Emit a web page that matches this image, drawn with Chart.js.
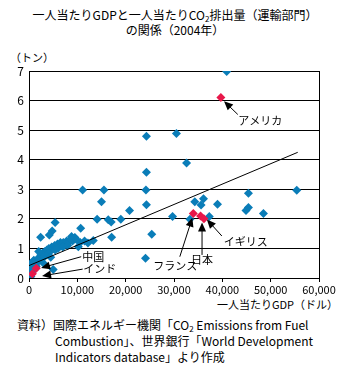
<!DOCTYPE html>
<html>
<head>
<meta charset="utf-8">
<script src="https://cdn.jsdelivr.net/npm/chart.js@4"></script>
<style>
body{margin:0;width:350px;height:372px;position:relative;background:#fff;overflow:hidden;
  font-family:"Noto Sans CJK JP",sans-serif;color:#000}
.t{position:absolute;white-space:nowrap;font-size:12px;line-height:16px}
.sub{font-size:8px;vertical-align:-2px}
#box{position:absolute;left:0;top:0;width:350px;height:372px}
</style>
</head>
<body>
<div class="t" style="left:0;width:350px;text-align:center;top:7px">一人当たりGDPと一人当たりCO<span class="sub">2</span>排出量（運輸部門）</div>
<div class="t" style="left:0;width:350px;text-align:center;top:22px">の関係（2004年）</div>
<div class="t" style="left:10px;top:49px;font-size:11px">（トン）</div>
<div class="t" style="right:12px;top:296px;font-size:11px">一人当たりGDP（ドル）</div>
<div class="t" style="left:17px;top:317px">資料）国際エネルギー機関「CO<span class="sub">2</span> Emissions from Fuel</div>
<div class="t" style="left:55px;top:333px">Combustion」、世界銀行「World Development</div>
<div class="t" style="left:55px;top:349px">Indicators database」より作成</div>
<div id="box"><canvas id="myChart"></canvas></div>
<script>
// values (GDP in dollars, CO2 in tons per person)
const blue_gdp = [40900, 24300, 30500, 32600, 24300, 11100, 15500, 24200, 55400, 45400,
  15000, 34300, 36100, 35600, 39000, 24300, 20800, 45400, 44900, 48500,
  29700, 37300, 33300, 19000, 14100, 16400, 17000, 5400, 10700, 4800,
  4200, 2400, 13300, 17100, 25400, 24100, 5000, 10200, 9500, 8800,
  9200, 10600, 11500, 12200,
  300, 500, 700, 900, 1100, 1300, 1500, 1700, 1900, 2100,
  2300, 2500, 2700, 2900, 3100, 3300, 3500, 3700, 3900, 4100,
  4400, 4700, 5000, 5300, 5600, 5900, 6200, 6500, 6800, 7100,
  7400, 7800, 8200, 8600, 9000, 9400, 9800, 400, 600, 1000,
  2000, 3000, 5400, 4500, 200, 800, 1200, 6000, 7000, 8000];
const blue_co2 = [6.98, 4.79, 4.89, 3.89, 3.58, 2.98, 2.98, 2.98, 2.97, 2.87,
  2.58, 2.58, 2.68, 2.47, 2.49, 2.48, 2.28, 2.38, 2.28, 2.18,
  2.08, 2.08, 1.99, 1.99, 1.99, 1.97, 1.89, 1.88, 1.68, 1.59,
  1.45, 1.38, 1.27, 1.38, 1.48, 0.67, 0.29, 1.06, 1.37, 1.40,
  1.29, 1.20, 1.25, 1.18,
  0.15, 0.25, 0.35, 0.30, 0.45, 0.50, 0.40, 0.60, 0.55, 0.70,
  0.65, 0.80, 0.75, 0.85, 0.70, 0.90, 0.85, 0.95, 0.80, 1.00,
  0.90, 1.05, 1.00, 1.10, 1.05, 1.15, 1.10, 1.20, 1.10, 1.20,
  1.15, 1.25, 1.20, 1.30, 1.25, 1.35, 1.30, 0.05, 0.50, 0.60,
  0.90, 0.50, 0.95, 0.70, 0.45, 0.55, 0.30, 1.00, 1.05, 1.10];

const red_names = ['アメリカ', 'フランス', '日本', 'イギリス', '中国', 'インド'];
const red_gdp = [39700, 34000, 35500, 36200, 1500, 700];
const red_co2 = [6.10, 2.18, 2.10, 2.00, 0.33, 0.14];

const trend_gdp = [0, 55600];
const trend_co2 = [0.42, 4.25];

const x_ticks = [0, 10000, 20000, 30000, 40000, 50000, 60000];
const y_ticks = [0, 1, 2, 3, 4, 5, 6, 7];

// where each callout sits (data units): label anchor, line start, arrow tip
const callouts = [
  {text: red_names[0], label: [43300, 5.30], align: 'left',   tail: [43200, 5.53], tip: [40350, 5.98]},
  {text: red_names[1], label: [25700, 0.42], align: 'left',   tail: [31200, 0.72], tip: [33800, 2.04]},
  {text: red_names[2], label: [35800, 0.63], align: 'center', tail: [35800, 0.78], tip: [35800, 1.88]},
  {text: red_names[3], label: [40300, 1.24], align: 'left',   tail: [39900, 1.42], tip: [36800, 1.98]},
  {text: red_names[4], label: [11000, 0.73], align: 'left',   tail: [10800, 0.72], tip: [2500, 0.34]},
  {text: red_names[5], label: [11200, 0.30], align: 'left',   tail: [11100, 0.30], tip: [2700, 0.07]}
];

const toPoints = (xs, ys) => xs.map((v, i) => ({x: v, y: ys[i]}));

const callout_plugin = {
  id: 'callouts',
  afterDatasetsDraw(chart) {
    const {ctx, chartArea: a, scales: {x, y}} = chart;
    ctx.save();
    ctx.strokeStyle = '#000';
    ctx.fillStyle = '#000';
    ctx.lineWidth = 1;
    // right-hand frame line
    ctx.beginPath();
    ctx.moveTo(Math.round(a.right) + 0.5, a.top);
    ctx.lineTo(Math.round(a.right) + 0.5, a.bottom);
    ctx.stroke();

    ctx.font = '11px "Noto Sans CJK JP"';
    ctx.textBaseline = 'middle';
    callouts.forEach(c => {
      const sx = x.getPixelForValue(c.tail[0]), sy = y.getPixelForValue(c.tail[1]);
      const tx = x.getPixelForValue(c.tip[0]), ty = y.getPixelForValue(c.tip[1]);
      const ang = Math.atan2(ty - sy, tx - sx);
      ctx.beginPath();
      ctx.moveTo(sx, sy);
      ctx.lineTo(tx - Math.cos(ang) * 6, ty - Math.sin(ang) * 6);
      ctx.stroke();
      ctx.beginPath();
      ctx.moveTo(tx, ty);
      ctx.lineTo(tx - Math.cos(ang) * 9 + Math.sin(ang) * 4, ty - Math.sin(ang) * 9 - Math.cos(ang) * 4);
      ctx.lineTo(tx - Math.cos(ang) * 9 - Math.sin(ang) * 4, ty - Math.sin(ang) * 9 + Math.cos(ang) * 4);
      ctx.closePath();
      ctx.fill();
      ctx.textAlign = c.align;
      ctx.fillText(c.text, x.getPixelForValue(c.label[0]), y.getPixelForValue(c.label[1]));
    });
    ctx.restore();
  }
};

var context = document.getElementById("myChart");
var myScatter = new Chart(context, {
  type: 'scatter',
  data: {
    datasets: [{
      type: 'line',
      data: toPoints(trend_gdp, trend_co2),
      borderColor: '#000',
      borderWidth: 1,
      pointRadius: 0,
      order: 0
    }, {
      data: toPoints(red_gdp, red_co2),
      pointStyle: 'rectRot',
      pointRadius: 4.5,
      backgroundColor: '#e8184a',
      borderWidth: 0,
      order: 1
    }, {
      data: toPoints(blue_gdp, blue_co2),
      pointStyle: 'rectRot',
      pointRadius: 4.5,
      backgroundColor: '#0a7db8',
      borderWidth: 0,
      order: 2
    }]
  },
  options: {
    responsive: true,
    maintainAspectRatio: false,
    animation: false,
    events: [],
    layout: {padding: {top: 71, right: 31, bottom: 74, left: 0}},
    plugins: {legend: {display: false}, tooltip: {enabled: false}},
    scales: {
      x: {
        type: 'linear',
        min: 0,
        max: 60000,
        afterBuildTicks: s => { s.ticks = x_ticks.map(v => ({value: v})); },
        afterFit: s => { s.height = 20; },
        ticks: {
          color: '#000',
          font: {size: 11, family: '"Noto Sans CJK JP"'},
          padding: 1,
          maxRotation: 0,
          callback: v => v.toLocaleString('en-US')
        },
        grid: {drawOnChartArea: false, drawTicks: true, tickLength: 4, color: '#000'},
        border: {color: '#000'}
      },
      y: {
        min: 0,
        max: 7,
        afterBuildTicks: s => { s.ticks = y_ticks.map(v => ({value: v})); },
        afterFit: s => { s.width = 29; },
        ticks: {
          color: '#000',
          font: {size: 12, family: '"Noto Sans CJK JP"'},
          padding: 5
        },
        grid: {color: '#000', drawTicks: false},
        border: {color: '#000'}
      }
    }
  },
  plugins: [callout_plugin]
});
</script>
</body>
</html>
